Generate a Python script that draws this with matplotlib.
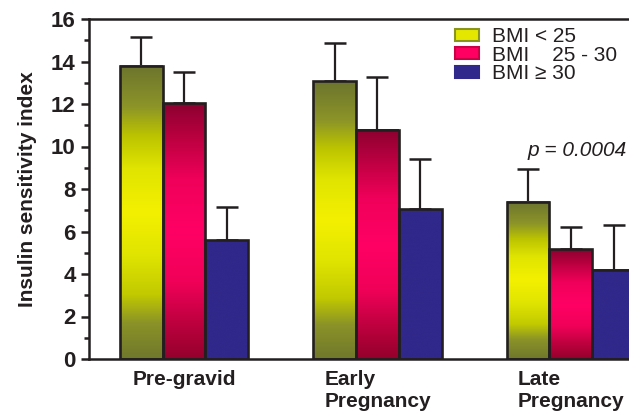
import numpy as np
import matplotlib
matplotlib.use("Agg")
import matplotlib.pyplot as plt
from matplotlib.colors import LinearSegmentedColormap
from matplotlib.patches import Patch

plt.rcParams['font.family'] = ['Liberation Sans', 'DejaVu Sans']

categories = ["Pre-gravid", "Early\nPregnancy", "Late\nPregnancy"]
series_labels = ["BMI < 25", "BMI    25 - 30", "BMI \u2265 30"]
bmi_lt25 = [13.8, 13.08, 7.40]
bmi_25_30 = [12.03, 10.78, 5.16]
bmi_ge30 = [5.6, 7.04, 4.19]
err_lt25 = [1.37, 1.81, 1.53]
err_25_30 = [1.46, 2.51, 1.04]
err_ge30 = [1.54, 2.36, 2.12]
yticks = [0, 2, 4, 6, 8, 10, 12, 14, 16]
p_text = "p = 0.0004"

values = [bmi_lt25, bmi_25_30, bmi_ge30]
errors = [err_lt25, err_25_30, err_ge30]

cm_green = LinearSegmentedColormap.from_list("g", [
    (0.0, "#70782c"), (0.12, "#8a9228"), (0.22, "#c2ca00"), (0.35, "#dfe400"),
    (0.5, "#f4f000"), (0.65, "#e0e400"), (0.76, "#bcc400"), (0.86, "#8c9428"),
    (1.0, "#6c742e")])
cm_red = LinearSegmentedColormap.from_list("r", [
    (0.0, "#94002c"), (0.15, "#c00040"), (0.3, "#f00058"), (0.5, "#ff0064"),
    (0.7, "#f0005a"), (0.85, "#c00042"), (1.0, "#8c0030")])
cm_blue = LinearSegmentedColormap.from_list("b", ["#30288a", "#30288a"])
cmaps = [cm_green, cm_red, cm_blue]

W, H = 629, 417
fig = plt.figure(figsize=(W / 100, H / 100), dpi=100)
ax = fig.add_axes([89 / W, 58 / H, 1 - 89 / W, (359 - 19) / H])

x = np.arange(len(categories))
bw = 0.222
offsets = [-bw, 0, bw]
edge = "#231f20"

grad = np.linspace(0, 1, 256).reshape(-1, 1)
for i in range(3):
    xs = x + offsets[i]
    bars = ax.bar(xs, values[i], width=bw, facecolor="none", edgecolor=edge,
                  linewidth=1.9, zorder=3)
    ax.errorbar(xs, values[i], yerr=[np.zeros(3), errors[i]], fmt="none",
                ecolor=edge, elinewidth=1.6, capsize=7.8, capthick=1.8, zorder=2)
    for b in bars:
        x0 = b.get_x()
        h = b.get_height()
        ax.imshow(grad, cmap=cmaps[i], extent=[x0, x0 + bw, 0, h],
                  origin="lower", aspect="auto", zorder=2.5,
                  interpolation="bilinear")

ax.set_xlim(-0.491, 2.30)
ax.set_ylim(0, 16)
ax.set_yticks(yticks)
ax.set_yticks(np.arange(1, 16, 2), minor=True)
ax.set_yticklabels([str(t) for t in yticks], fontsize=16, fontweight="bold",
                   color="#231f20")
ax.tick_params(axis="y", which="major", direction="out", length=6, width=1.8,
               color=edge, pad=3.5)
ax.tick_params(axis="y", which="minor", direction="out", length=3.5, width=1.8,
               color=edge)
ax.set_xticks(x)
ax.set_xticklabels(categories, fontsize=15, fontweight="bold", color="#231f20",
                   multialignment="left", linespacing=1.22)
ax.tick_params(axis="x", length=0, pad=8)
ax.set_ylabel("Insulin sensitivity index", fontsize=15, fontweight="bold",
              color="#231f20", labelpad=10)

for s in ["left", "bottom", "top"]:
    ax.spines[s].set_linewidth(1.8)
    ax.spines[s].set_color(edge)
ax.spines["right"].set_visible(False)

handles = [
    Patch(facecolor="#e4e800", edgecolor="#8a9420", linewidth=1.5),
    Patch(facecolor="#ff0062", edgecolor="#c80046", linewidth=1.5),
    Patch(facecolor="#30288a", edgecolor="#30288a", linewidth=1.5),
]
leg = ax.legend(handles, series_labels, loc="upper left",
                bbox_to_anchor=(455 / W, 1 - 27 / H), bbox_transform=fig.transFigure,
                frameon=False, fontsize=15, handlelength=1.15, handleheight=0.5,
                handletextpad=0.65, labelspacing=-0.02, borderpad=0,
                borderaxespad=0)
for t in leg.get_texts():
    t.set_color("#231f20")

fig.text(627 / W, 1 - 150 / H, p_text, fontsize=15, style="italic",
         ha="right", va="center", color="#231f20")

fig.savefig("out.png", dpi=100)
